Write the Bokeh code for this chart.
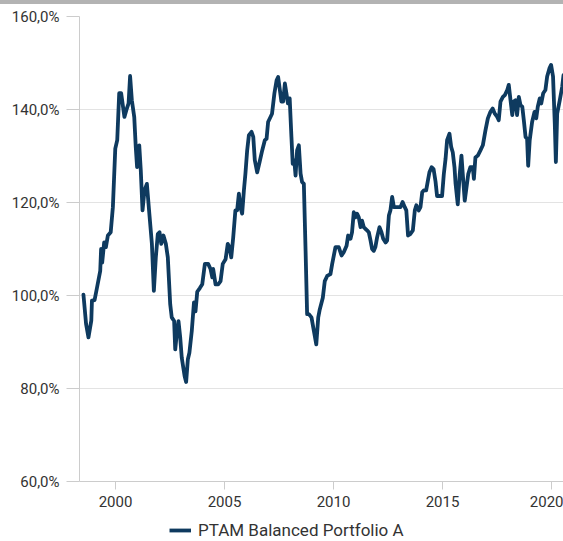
from bokeh.plotting import figure
from bokeh.models import Range1d, FixedTicker, Legend, LegendItem, ColumnDataSource, Div
from bokeh.layouts import column
from bokeh.embed import file_html
from bokeh.resources import INLINE

series_name = "PTAM Balanced Portfolio A"

years = [
    1998.53, 1998.65, 1998.76, 1998.89, 1998.92, 1999.04, 1999.14, 1999.30, 1999.34, 1999.39,
    1999.48, 1999.56, 1999.65, 1999.78, 1999.88, 1999.99, 2000.08, 2000.17, 2000.26, 2000.41,
    2000.52, 2000.60, 2000.67, 2000.75, 2000.86, 2000.93, 2000.99, 2001.09, 2001.16, 2001.24,
    2001.33, 2001.44, 2001.54, 2001.67, 2001.76, 2001.85, 2001.94, 2002.02, 2002.10, 2002.20,
    2002.31, 2002.40, 2002.51, 2002.58, 2002.69, 2002.74, 2002.81, 2002.89, 2002.97, 2003.04,
    2003.17, 2003.24, 2003.32, 2003.39, 2003.50, 2003.60, 2003.67, 2003.75, 2003.87, 2003.98,
    2004.10, 2004.25, 2004.36, 2004.44, 2004.48, 2004.59, 2004.71, 2004.82, 2004.92, 2005.05,
    2005.15, 2005.23, 2005.31, 2005.40, 2005.50, 2005.58, 2005.66, 2005.73, 2005.81, 2005.89,
    2005.96, 2006.04, 2006.12, 2006.24, 2006.32, 2006.39, 2006.50, 2006.61, 2006.73, 2006.85,
    2006.93, 2007.00, 2007.11, 2007.18, 2007.29, 2007.39, 2007.46, 2007.54, 2007.61, 2007.69,
    2007.77, 2007.84, 2007.91, 2007.99, 2008.07, 2008.13, 2008.20, 2008.26, 2008.33, 2008.41,
    2008.49, 2008.56, 2008.64, 2008.72, 2008.79, 2008.87, 2008.99, 2009.10, 2009.21, 2009.30,
    2009.37, 2009.51, 2009.60, 2009.71, 2009.86, 2009.94, 2010.09, 2010.24, 2010.37, 2010.47,
    2010.60, 2010.67, 2010.78, 2010.85, 2010.93, 2011.00, 2011.08, 2011.16, 2011.24, 2011.31,
    2011.39, 2011.47, 2011.54, 2011.62, 2011.70, 2011.77, 2011.85, 2011.92, 2012.00, 2012.11,
    2012.20, 2012.28, 2012.39, 2012.46, 2012.54, 2012.61, 2012.69, 2012.77, 2012.84, 2012.95,
    2013.07, 2013.17, 2013.27, 2013.34, 2013.42, 2013.52, 2013.64, 2013.73, 2013.80, 2013.91,
    2013.99, 2014.07, 2014.14, 2014.25, 2014.33, 2014.40, 2014.50, 2014.59, 2014.68, 2014.75,
    2014.87, 2014.98, 2015.06, 2015.14, 2015.21, 2015.32, 2015.40, 2015.47, 2015.55, 2015.60,
    2015.70, 2015.79, 2015.87, 2015.93, 2016.02, 2016.10, 2016.18, 2016.28, 2016.39, 2016.44,
    2016.51, 2016.62, 2016.74, 2016.85, 2016.97, 2017.08, 2017.20, 2017.30, 2017.40, 2017.51,
    2017.58, 2017.66, 2017.77, 2017.86, 2017.97, 2018.04, 2018.12, 2018.20, 2018.27, 2018.35,
    2018.42, 2018.50, 2018.58, 2018.66, 2018.73, 2018.81, 2018.88, 2018.93, 2019.00, 2019.11,
    2019.22, 2019.30, 2019.37, 2019.46, 2019.53, 2019.62, 2019.72, 2019.80, 2019.91, 2019.98,
    2020.07, 2020.15, 2020.20, 2020.26, 2020.38, 2020.49, 2020.55,
]

values = [
    100.2, 93.9, 91.0, 94.6, 98.9, 99.0, 101.4, 105.3, 110.0, 107.1,
    111.4, 110.4, 112.9, 113.6, 119.0, 131.6, 133.4, 143.5, 143.5, 138.4,
    140.2, 141.3, 147.2, 142.0, 138.4, 131.9, 127.6, 132.3, 126.9, 118.3,
    122.6, 124.0, 118.3, 111.1, 101.0, 108.2, 113.2, 113.6, 111.1, 112.9,
    111.1, 108.2, 98.1, 95.3, 94.5, 88.4, 91.7, 94.5, 90.9, 86.6,
    82.7, 81.4, 86.3, 87.7, 92.4, 98.5, 96.6, 100.8, 101.6, 102.4,
    106.8, 106.8, 105.7, 103.9, 105.7, 102.4, 102.4, 103.1, 106.8, 107.8,
    111.1, 110.4, 108.2, 112.5, 118.3, 118.3, 121.9, 119.0, 117.6, 122.6,
    126.2, 131.2, 134.5, 135.2, 134.1, 129.1, 126.5, 128.7, 131.2, 133.4,
    133.7, 137.3, 138.4, 139.1, 143.5, 146.3, 147.0, 144.2, 141.7, 141.7,
    145.6, 143.5, 141.3, 142.4, 134.1, 128.3, 129.1, 125.8, 131.2, 132.3,
    126.2, 124.4, 124.0, 109.5, 96.0, 96.0, 95.3, 92.4, 89.5, 95.3,
    97.0, 99.5, 103.1, 104.2, 104.6, 106.8, 110.4, 110.4, 108.6, 109.3,
    110.7, 112.9, 112.2, 113.6, 117.9, 116.8, 117.6, 116.8, 114.7, 116.1,
    114.7, 114.3, 114.0, 113.6, 111.8, 110.0, 109.6, 110.4, 112.5, 114.7,
    113.6, 112.2, 111.4, 111.8, 117.2, 118.3, 121.2, 119.0, 119.0, 119.0,
    119.0, 120.1, 119.0, 118.3, 112.9, 113.2, 114.0, 118.3, 119.4, 118.3,
    119.0, 122.2, 122.6, 122.6, 124.7, 126.5, 127.6, 127.2, 124.5, 121.4,
    121.4, 121.4, 126.1, 129.4, 133.4, 134.8, 131.9, 130.8, 127.6, 124.0,
    119.6, 126.1, 130.1, 126.1, 120.4, 123.2, 126.1, 127.6, 127.6, 125.1,
    129.7, 130.1, 131.2, 132.3, 135.5, 138.1, 139.5, 140.2, 139.1, 138.4,
    137.7, 141.7, 142.7, 143.1, 144.2, 145.3, 142.0, 138.8, 141.7, 142.0,
    138.8, 142.7, 140.9, 140.6, 137.7, 134.1, 133.7, 127.9, 133.4, 137.3,
    139.5, 138.1, 140.6, 142.4, 141.3, 143.5, 144.2, 147.1, 148.9, 149.6,
    147.1, 137.0, 128.7, 139.1, 142.0, 144.9, 147.4,
]

x_ticks = [2000, 2005, 2010, 2015, 2020]
x_tick_labels = ["2000", "2005", "2010", "2015", "2020"]
y_ticks = [60, 80, 100, 120, 140, 160]
y_tick_labels = ["60,0%", "80,0%", "100,0%", "120,0%", "140,0%", "160,0%"]

FONT = "Roboto"
LINE_COLOR = "#0e3a5f"
GRID = "#e3e3e3"
AXIS = "#cccccc"
TEXT = "#333333"
BAR = "#b3b3b3"

W = 563

# --- thin grey band across the top ---
top = Div(text="", width=W, height=4, margin=0,
          styles={"background-color": BAR})

# --- main chart ---
p = figure(width=W, height=510, output_backend="svg", toolbar_location=None,
           x_range=Range1d(1998.349, 2020.55), y_range=Range1d(60, 160),
           min_border_left=79, min_border_right=0, min_border_top=12, min_border_bottom=33)

p.outline_line_color = None
p.background_fill_color = "white"
p.border_fill_color = "white"

src = ColumnDataSource(data=dict(x=years, y=values))
r = p.line("x", "y", source=src, line_color=LINE_COLOR, line_width=3.8,
           line_join="round", line_cap="round")

p.xaxis.ticker = FixedTicker(ticks=x_ticks)
p.xaxis.major_label_overrides = dict(zip(x_ticks, x_tick_labels))
p.yaxis.ticker = FixedTicker(ticks=y_ticks)
p.yaxis.major_label_overrides = dict(zip(y_ticks, y_tick_labels))

for ax in (p.xaxis[0], p.yaxis[0]):
    ax.axis_line_color = AXIS
    ax.axis_line_width = 1
    ax.major_tick_line_color = AXIS
    ax.major_tick_in = 0
    ax.minor_tick_line_color = None
    ax.major_label_text_font = FONT
    ax.major_label_text_font_size = "15px"
    ax.major_label_text_color = TEXT

p.xaxis.major_tick_out = 8
p.xaxis.major_label_standoff = 6
p.yaxis.major_tick_out = 13
p.yaxis.major_label_standoff = 7

p.xgrid.grid_line_color = None
p.ygrid.grid_line_color = GRID
p.ygrid.grid_line_width = 1

# --- legend strip (its frame is aligned with the chart frame by the column) ---
lg = figure(width=W, height=27, output_backend="svg", toolbar_location=None,
            x_range=Range1d(0, 1), y_range=Range1d(0, 1),
            x_axis_location=None, y_axis_location=None,
            min_border_left=0, min_border_right=0, min_border_top=0, min_border_bottom=0)
lg.outline_line_color = None
lg.grid.visible = False
lg.background_fill_color = "white"
lg.border_fill_color = "white"
key = lg.line(x=[2.0, 3.0], y=[2.0, 2.0], line_color=LINE_COLOR, line_width=3.8)

legend = Legend(items=[LegendItem(label=series_name, renderers=[key])],
                orientation="horizontal", location=(90, 1),
                glyph_width=22, glyph_height=18, label_standoff=7,
                label_text_font=FONT, label_text_font_size="17px",
                label_text_color=TEXT, padding=0, margin=0,
                border_line_color=None, background_fill_alpha=0)
lg.add_layout(legend, "center")

layout = column(top, p, lg, spacing=0)

open("out.html", "w").write(file_html(layout, INLINE))
